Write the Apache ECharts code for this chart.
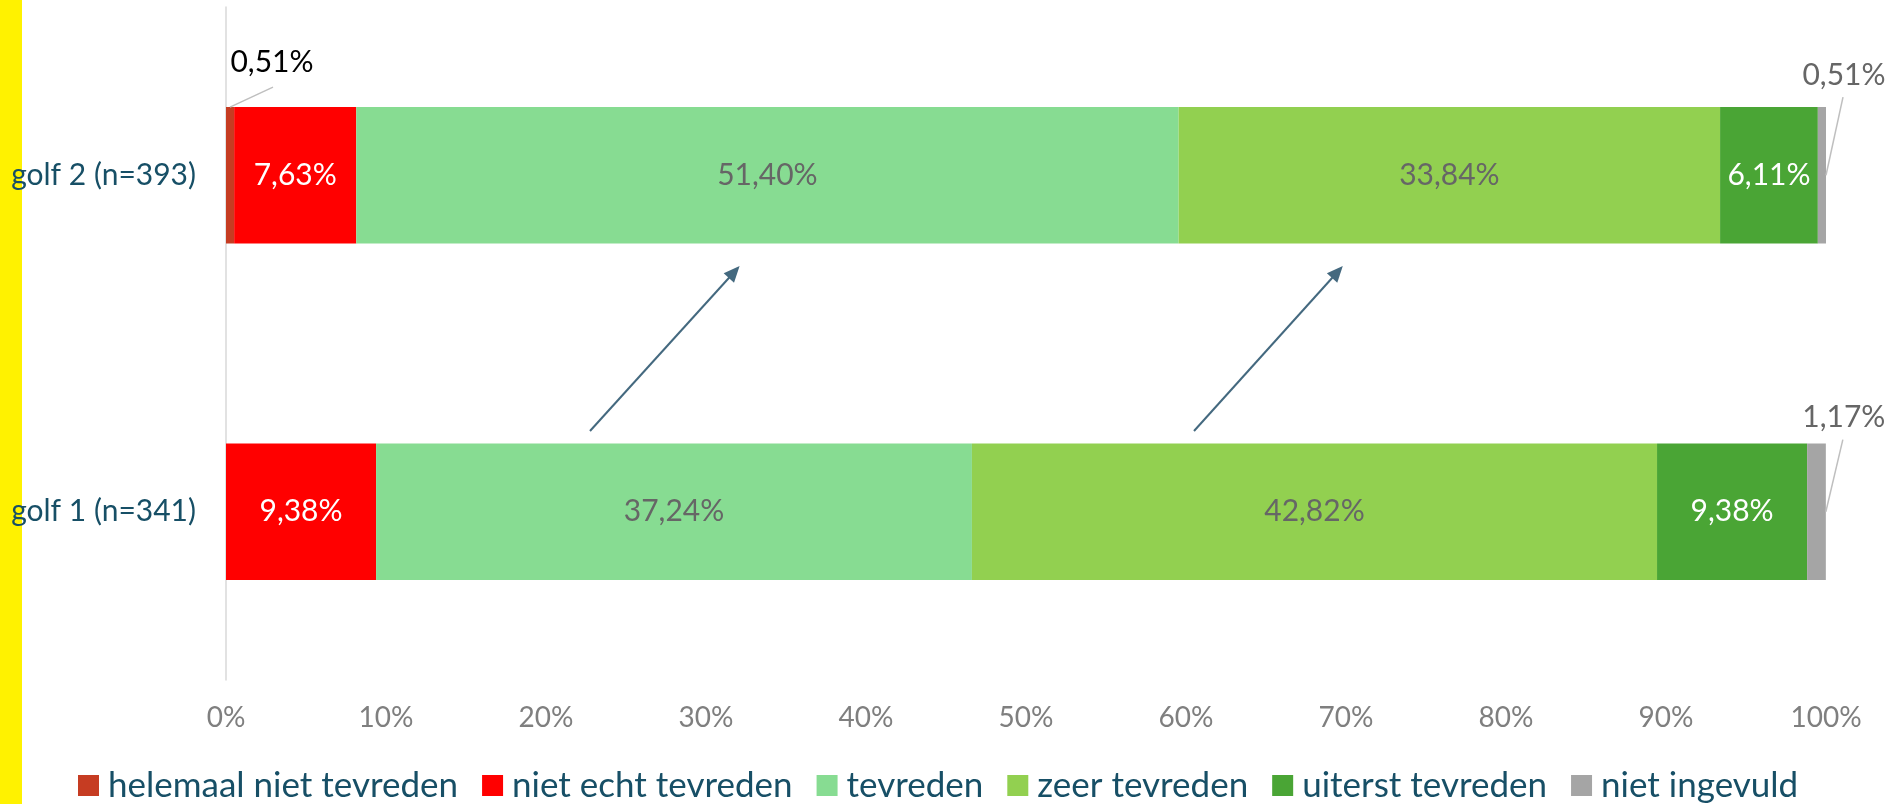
<!DOCTYPE html>
<html lang="nl">
<head>
<meta charset="UTF-8">
<title>tevredenheid golf 1 / golf 2</title>
<script src="https://cdn.jsdelivr.net/npm/echarts@6/dist/echarts.min.js"></script>
<style>
  html, body { margin: 0; padding: 0; background: #fff; }
  #main { width: 1903px; height: 804px; }
</style>
</head>
<body>
<div id="main"></div>
<script>
  // categorieen (van onder naar boven)
  var categories = ['golf 1 (n=341)', 'golf 2 (n=393)'];
  var seriesNames = ['helemaal niet tevreden', 'niet echt tevreden', 'tevreden', 'zeer tevreden', 'uiterst tevreden', 'niet ingevuld'];

  // percentages per golf [golf 1, golf 2]
  var helemaalNiet = [0, 0.51];
  var nietEcht = [9.38, 7.63];
  var tevreden = [37.24, 51.40];
  var zeerTevreden = [42.82, 33.84];
  var uiterstTevreden = [9.38, 6.11];
  var nietIngevuld = [1.17, 0.51];

  var xTicks = [0, 10, 20, 30, 40, 50, 60, 70, 80, 90, 100];

  // pijlen: [x start %, positie start (0 = golf 1, 1 = golf 2), x eind %, positie eind]
  var arrows = [[22.75, 0.24, 32.1, 0.73], [60.5, 0.24, 69.8, 0.73]];

  var colors = ['#C63C22', '#FF0000', '#87DC92', '#92D050', '#4AA535', '#A5A5A5'];
  var FONT = 'Lato, "Open Sans", sans-serif';
  var GAP = 0.595;

  function pct(v) {
    return v.toFixed(2).replace('.', ',') + '%';
  }

  var allData = [helemaalNiet, nietEcht, tevreden, zeerTevreden, uiterstTevreden, nietIngevuld];
  var labelColors = ['#000000', '#FFFFFF', '#666666', '#666666', '#FFFFFF', '#666666'];

  var myChart = echarts.init(document.getElementById('main'));

  var series = allData.map(function (d, i) {
    var s = {
      name: seriesNames[i],
      type: 'bar',
      stack: 'totaal',
      barCategoryGap: (GAP * 100) + '%',
      // lege waarden krijgen geen label
      data: d.map(function (v) {
        return v ? v : { value: v, label: { show: false } };
      }),
      itemStyle: { color: colors[i] },
      label: {
        show: true,
        position: 'inside',
        color: labelColors[i],
        fontFamily: FONT,
        fontSize: 30,
        formatter: function (p) { return pct(p.value); }
      }
    };
    if (i === 0) {
      s.labelLayout = function (p) {
        return { x: p.rect.x + 46, y: p.rect.y - 45, align: 'center', verticalAlign: 'middle' };
      };
    }
    if (i === 5) {
      s.labelLayout = function (p) {
        return {
          x: p.rect.x + p.rect.width + 18,
          y: p.rect.y - (p.dataIndex === 1 ? 32 : 26),
          align: 'center', verticalAlign: 'middle'
        };
      };
    }
    return s;
  });

  var option = {
    backgroundColor: '#fff',
    animation: false,
    color: colors,
    grid: { left: 226, right: 77, top: 7, bottom: 124, containLabel: false },
    legend: {
      data: seriesNames,
      left: 73,
      top: 763,
      itemWidth: 21,
      itemHeight: 21,
      itemGap: 24,
      icon: 'rect',
      textStyle: { color: '#174F66', fontFamily: FONT, fontSize: 35, padding: [0, 0, 0, 4] }
    },
    xAxis: {
      type: 'value',
      min: 0,
      max: 100,
      interval: 10,
      axisLine: { show: false },
      axisTick: { show: false },
      splitLine: { show: false },
      axisLabel: {
        color: '#7F7F7F',
        fontFamily: FONT,
        fontSize: 28,
        margin: 24,
        formatter: function (v) { return xTicks.indexOf(v) >= 0 ? v + '%' : ''; }
      }
    },
    yAxis: {
      type: 'category',
      data: categories,
      axisLine: { show: true, lineStyle: { color: '#D9D9D9', width: 1.5 } },
      axisTick: { show: false },
      axisLabel: { color: '#174F66', fontFamily: FONT, fontSize: 30, margin: 30 }
    },
    graphic: [{
      type: 'rect',
      left: 0, top: 0, z: -10,
      shape: { width: 22, height: 804 },
      style: { fill: '#FFF200' }
    }],
    series: series
  };

  myChart.setOption(option);

  // pijlen en verbindingslijnen van de labels, berekend via de assen
  function drawExtras() {
    var p0 = myChart.convertToPixel({ gridIndex: 0 }, [0, categories[0]]);
    var p1 = myChart.convertToPixel({ gridIndex: 0 }, [0, categories[1]]);
    var band = Math.abs(p0[1] - p1[1]);
    var half = band * (1 - GAP) / 2;
    function yAt(t) { return p0[1] + (p1[1] - p0[1]) * t; }
    function xAt(v) { return myChart.convertToPixel({ gridIndex: 0 }, [v, categories[0]])[0]; }
    var els = [];
    var guide = { stroke: '#BFBFBF', lineWidth: 1.5 };

    // label 'helemaal niet tevreden' golf 2
    var x0 = xAt(0), top2 = p1[1] - half;
    els.push({ type: 'line', z: 10, shape: { x1: x0 + 4, y1: top2, x2: x0 + 47, y2: top2 - 20 }, style: guide });

    // labels 'niet ingevuld'
    [0, 1].forEach(function (k) {
      var total = allData.reduce(function (s, d) { return s + d[k]; }, 0);
      var xr = xAt(total);
      var cy = k === 1 ? p1[1] : p0[1];
      var top = cy - half;
      els.push({ type: 'line', z: 10, shape: { x1: xr, y1: cy, x2: xr + 17, y2: top - (k === 1 ? 10 : 4) }, style: guide });
    });

    arrows.forEach(function (a) {
      var x1 = xAt(a[0]), x2 = xAt(a[2]);
      var y1 = yAt(a[1]), y2 = yAt(a[3]);
      var dx = x2 - x1, dy = y2 - y1, len = Math.sqrt(dx * dx + dy * dy);
      var ux = dx / len, uy = dy / len;
      var hl = 16, hw = 7;
      var bx = x2 - ux * hl, by = y2 - uy * hl;
      els.push({
        type: 'line', z: 10,
        shape: { x1: x1, y1: y1, x2: bx + ux * 2, y2: by + uy * 2 },
        style: { stroke: '#44697F', lineWidth: 2 }
      });
      els.push({
        type: 'polygon', z: 10,
        shape: { points: [[x2, y2], [bx - uy * hw, by + ux * hw], [bx + uy * hw, by - ux * hw]] },
        style: { fill: '#44697F' }
      });
    });
    myChart.setOption({ graphic: option.graphic.concat(els) });
  }
  drawExtras();
</script>
</body>
</html>
